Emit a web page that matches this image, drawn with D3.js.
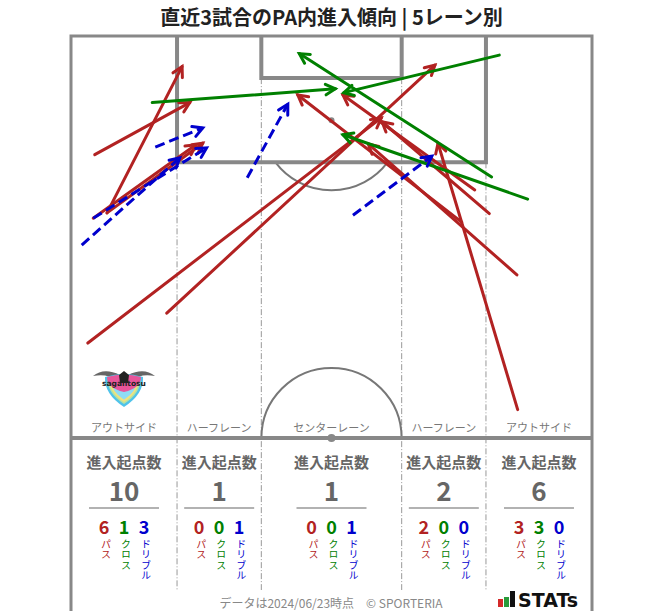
<!DOCTYPE html>
<html>
<head>
<meta charset="utf-8">
<script src="https://cdn.jsdelivr.net/npm/d3@7"></script>
<style>
  body { margin: 0; background: #fff; }
  svg { display: block; font-family: "Noto Sans CJK JP", "Noto Sans", sans-serif; }
</style>
</head>
<body>
<svg id="plot"></svg>
<script>
// pitch coordinates in metres: x across (0-68), y from goal line (0-52.5)
const passes = [
  [3.1, 15.5, 15.5, 8.7],
  [4.7, 23.1, 14.5, 4.0],
  [4.7, 23.1, 17.2, 14.0],
  [2.9, 23.8, 16.3, 14.2],
  [2.2, 40.1, 40.5, 10.7],
  [12.5, 36.2, 47.5, 3.8],
  [51.0, 24.3, 29.6, 7.7],
  [52.7, 20.1, 35.5, 7.7],
  [54.6, 23.2, 40.6, 11.2],
  [58.2, 31.2, 38.8, 14.1],
  [58.3, 48.8, 47.9, 14.0]
];
const crosses = [
  [10.6, 8.7, 34.5, 6.9],
  [59.6, 21.3, 35.5, 12.9],
  [54.9, 18.4, 29.8, 2.3],
  [55.9, 2.5, 35.6, 7.4]
];
const dribbles = [
  [11.0, 14.5, 17.2, 12.0],
  [2.9, 23.8, 17.7, 14.6],
  [1.4, 27.3, 14.2, 15.9],
  [23.0, 18.5, 28.3, 8.9],
  [36.8, 23.4, 47.1, 15.7]
];

const lanes = ["アウトサイド", "ハーフレーン", "センターレーン", "ハーフレーン", "アウトサイド"];
const laneEdges = [0, 13.84, 24.84, 43.16, 54.16, 68];
const passCounts = [6, 0, 0, 2, 3];
const crossCounts = [1, 0, 0, 0, 3];
const dribbleCounts = [3, 1, 1, 0, 0];
const kindLabels = ["パス", "クロス", "ドリブル"];

const red = "#b22222", green = "#008000", blue = "#0000cd";
const lineGray = "#888";

const width = 663, height = 611;
const svg = d3.select("#plot").attr("width", width).attr("height", height);

const x = d3.scaleLinear().domain([0, 68]).range([71, 592]);
const y = d3.scaleLinear().domain([0, 52.5]).range([36, 438]);

svg.append("text")
  .attr("x", width / 2).attr("y", 25)
  .attr("text-anchor", "middle")
  .attr("font-size", 20).attr("font-weight", "bold").attr("fill", "#222")
  .text("直近3試合のPA内進入傾向 | 5レーン別");

const pitch = svg.append("g");

// lane dividers (dash-dot)
const dividers = laneEdges.slice(1, -1);
pitch.selectAll(".lane")
  .data(dividers)
  .join("line")
  .attr("x1", (d) => x(d)).attr("x2", (d) => x(d))
  .attr("y1", (d, i) => (i === 0 || i === 3) ? y(16.5) : y(5.5))
  .attr("y2", 590)
  .attr("stroke", "#999").attr("stroke-width", 1)
  .attr("stroke-dasharray", "6,2,1,2");

// penalty arc (outside the box) and centre circle
const arc = d3.arc();
const r = x(9.15) - x(0);
const cut = Math.acos(5.5 / 9.15);
pitch.append("path")
  .attr("transform", `translate(${x(34)},${y(11)})`)
  .attr("d", arc({ innerRadius: r, outerRadius: r, startAngle: Math.PI - cut, endAngle: Math.PI + cut }))
  .attr("fill", "none").attr("stroke", "#777").attr("stroke-width", 2);
pitch.append("path")
  .attr("transform", `translate(${x(34)},${y(52.5)})`)
  .attr("d", arc({ innerRadius: r, outerRadius: r, startAngle: -Math.PI / 2, endAngle: Math.PI / 2 }))
  .attr("fill", "none").attr("stroke", "#777").attr("stroke-width", 2);
pitch.append("circle")
  .attr("cx", x(34)).attr("cy", y(11)).attr("r", 3).attr("fill", "#888");

// boxes, open at the goal line
function boxPath(x0, x1, depth) {
  return `M${x(x0)},${y(0)}L${x(x0)},${y(depth)}L${x(x1)},${y(depth)}L${x(x1)},${y(0)}`;
}
pitch.append("path")
  .attr("d", boxPath(13.84, 54.16, 16.5))
  .attr("fill", "none").attr("stroke", lineGray).attr("stroke-width", 4);
pitch.append("path")
  .attr("d", boxPath(24.84, 43.16, 5.5))
  .attr("fill", "none").attr("stroke", lineGray).attr("stroke-width", 4);

// outer border and halfway line
pitch.append("rect")
  .attr("x", x(0)).attr("y", y(0))
  .attr("width", x(68) - x(0)).attr("height", 620 - y(0))
  .attr("fill", "none").attr("stroke", lineGray).attr("stroke-width", 3);
pitch.append("line")
  .attr("x1", x(0)).attr("x2", x(68))
  .attr("y1", y(52.5)).attr("y2", y(52.5))
  .attr("stroke", lineGray).attr("stroke-width", 4);
pitch.append("circle")
  .attr("cx", x(34)).attr("cy", y(52.5)).attr("r", 4).attr("fill", "#888");

// lane labels
const laneMid = lanes.map((d, i) => (x(laneEdges[i]) + x(laneEdges[i + 1])) / 2);
svg.selectAll(".laneLabel")
  .data(lanes)
  .join("text")
  .attr("x", (d, i) => laneMid[i]).attr("y", 432)
  .attr("text-anchor", "middle")
  .attr("font-size", 11).attr("fill", "#777")
  .text((d) => d);

// team crest (simplified)
const crest = svg.append("g").attr("transform", "translate(124,386)");
crest.append("path")
  .attr("d", "M-31,-10 Q-20,-19 -4,-11 L0,-5 L4,-11 Q20,-19 31,-10 Q16,-13 8,-5 L-8,-5 Q-16,-13 -31,-10Z")
  .attr("fill", "#666");
const shield = "M-19,-9 Q0,-15 19,-9 Q20,8 0,21 Q-20,8 -19,-9Z";
crest.append("path").attr("d", shield).attr("fill", "#4fc3ea");
crest.append("path").attr("d", shield).attr("fill", "#b5e3a4").attr("transform", "scale(0.86)");
crest.append("path").attr("d", shield).attr("fill", "#f4e27a").attr("transform", "scale(0.76)");
crest.append("path").attr("d", shield).attr("fill", "#8fdcf4").attr("transform", "scale(0.66)");
crest.append("path")
  .attr("d", "M-17,-9 Q0,-14 17,-9 Q17,2 0,6 Q-17,2 -17,-9Z")
  .attr("fill", "#e8559a");
crest.append("path")
  .attr("d", "M-5,-11 L0,-15 L5,-11 L4,-3 L-4,-3Z").attr("fill", "#222");
crest.append("text")
  .attr("y", 0).attr("text-anchor", "middle")
  .attr("font-size", 7.5).attr("font-weight", "bold").attr("fill", "#222")
  .attr("font-family", "DejaVu Sans")
  .text("sagantosu");

// arrows
function arrowHead(d) {
  const x1 = x(d[0]), y1 = y(d[1]), x2 = x(d[2]), y2 = y(d[3]);
  const a = Math.atan2(y2 - y1, x2 - x1);
  const len = 11, spread = 0.5;
  const p1 = [x2 - len * Math.cos(a - spread), y2 - len * Math.sin(a - spread)];
  const p2 = [x2 - len * Math.cos(a + spread), y2 - len * Math.sin(a + spread)];
  return `M${p1[0]},${p1[1]}L${x2},${y2}L${p2[0]},${p2[1]}`;
}

function drawArrows(data, color, dashed) {
  const g = svg.append("g");
  g.selectAll("line")
    .data(data)
    .join("line")
    .attr("x1", (d) => x(d[0])).attr("y1", (d) => y(d[1]))
    .attr("x2", (d) => x(d[2])).attr("y2", (d) => y(d[3]))
    .attr("stroke", color).attr("stroke-width", 3)
    .attr("stroke-linecap", dashed ? "butt" : "round")
    .attr("stroke-dasharray", dashed ? "10,5" : null);
  g.selectAll("path")
    .data(data)
    .join("path")
    .attr("d", arrowHead)
    .attr("fill", "none").attr("stroke", color).attr("stroke-width", 3)
    .attr("stroke-linecap", "round").attr("stroke-linejoin", "miter");
}
drawArrows(passes, red, false);
drawArrows(crosses, green, false);
drawArrows(dribbles, blue, true);

// stats per lane
const stats = svg.append("g");
lanes.forEach((lane, i) => {
  const cx = laneMid[i];
  const total = passCounts[i] + crossCounts[i] + dribbleCounts[i];
  stats.append("text")
    .attr("x", cx).attr("y", 468)
    .attr("text-anchor", "middle")
    .attr("font-size", 15).attr("font-weight", "bold").attr("fill", "#666")
    .text("進入起点数");
  stats.append("text")
    .attr("x", cx).attr("y", 501)
    .attr("text-anchor", "middle")
    .attr("font-size", 26).attr("font-weight", "bold").attr("fill", "#666")
    .text(total);
  stats.append("line")
    .attr("x1", cx - 35).attr("x2", cx + 35)
    .attr("y1", 508).attr("y2", 508)
    .attr("stroke", "#666").attr("stroke-width", 1.2);

  const counts = [passCounts[i], crossCounts[i], dribbleCounts[i]];
  const colors = [red, green, blue];
  counts.forEach((c, k) => {
    const nx = cx + (k - 1) * 20;
    stats.append("text")
      .attr("x", nx).attr("y", 534)
      .attr("text-anchor", "middle")
      .attr("font-size", 18).attr("font-weight", "bold").attr("fill", colors[k])
      .text(c);
    // vertical label
    stats.append("text")
      .attr("x", nx + 2).attr("y", 539)
      .attr("font-size", 10).attr("fill", colors[k])
      .style("writing-mode", "vertical-rl")
      .style("letter-spacing", "0.5px")
      .text(kindLabels[k]);
  });
});

// footer
svg.append("text")
  .attr("x", 331).attr("y", 608)
  .attr("text-anchor", "middle")
  .attr("font-size", 12).attr("fill", "#888")
  .text("データは2024/06/23時点　© SPORTERIA");

const logo = svg.append("g");
logo.append("rect").attr("x", 498).attr("y", 599).attr("width", 5).attr("height", 8).attr("fill", "#d42a2a");
logo.append("rect").attr("x", 504).attr("y", 597).attr("width", 5).attr("height", 10).attr("fill", "#2a9a3a");
logo.append("rect").attr("x", 510).attr("y", 591).attr("width", 5).attr("height", 16).attr("fill", "#111");
logo.append("text")
  .attr("x", 518).attr("y", 607)
  .attr("font-family", "DejaVu Sans").attr("font-weight", "bold")
  .attr("font-size", 19).attr("fill", "#111")
  .text("STATs");
</script>
</body>
</html>
